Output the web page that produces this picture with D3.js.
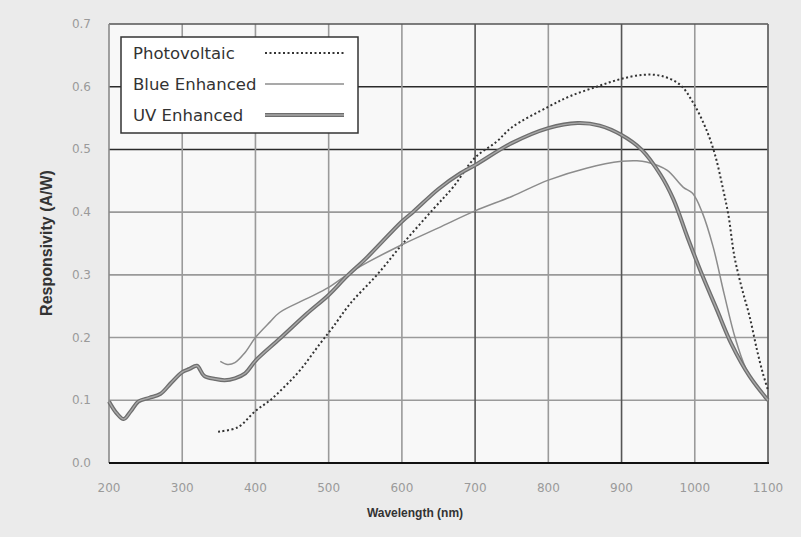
<!DOCTYPE html>
<html>
<head>
<meta charset="utf-8">
<script src="https://cdn.jsdelivr.net/npm/d3@7"></script>
<style>
  html, body { margin: 0; padding: 0; background: #ebebeb; }
  svg { display: block; }
</style>
</head>
<body>
<div id="chart"></div>
<script>
//////////////////////////////////////////////////////////////////////////////
// Data

var xTicks = [200, 300, 400, 500, 600, 700, 800, 900, 1000, 1100];
var yTicks = [0.0, 0.1, 0.2, 0.3, 0.4, 0.5, 0.6, 0.7];

var pvWl   = [349, 376, 400, 420, 440, 461, 488, 506, 530, 566, 600, 643, 670, 700, 729, 750, 800, 830, 866, 898, 930, 955, 980, 998, 1016, 1028, 1038, 1046, 1054, 1064, 1075, 1085, 1093, 1100];
var pvResp = [0.050, 0.057, 0.083, 0.100, 0.122, 0.148, 0.190, 0.217, 0.255, 0.300, 0.348, 0.405, 0.440, 0.487, 0.512, 0.535, 0.568, 0.585, 0.600, 0.612, 0.619, 0.617, 0.603, 0.574, 0.531, 0.490, 0.440, 0.395, 0.330, 0.280, 0.233, 0.180, 0.143, 0.116];

var blueWl   = [352, 362, 372, 385, 400, 420, 433, 470, 500, 538, 600, 650, 700, 750, 800, 852, 900, 921, 934, 962, 984, 997, 1010, 1025, 1040, 1055, 1070, 1085, 1100];
var blueResp = [0.162, 0.157, 0.160, 0.175, 0.200, 0.225, 0.240, 0.262, 0.280, 0.310, 0.348, 0.375, 0.402, 0.425, 0.451, 0.470, 0.481, 0.482, 0.480, 0.467, 0.440, 0.430, 0.400, 0.345, 0.270, 0.200, 0.150, 0.122, 0.100];

var uvWl   = [200, 210, 220, 230, 240, 255, 270, 285, 300, 310, 320, 330, 345, 358, 372, 386, 400, 433, 470, 500, 525, 550, 600, 615, 650, 680, 700, 750, 800, 840, 870, 900, 927, 953, 971, 990, 1010, 1030, 1050, 1075, 1100];
var uvResp = [0.098, 0.080, 0.070, 0.083, 0.098, 0.104, 0.110, 0.128, 0.145, 0.150, 0.155, 0.139, 0.134, 0.132, 0.135, 0.143, 0.163, 0.198, 0.238, 0.268, 0.298, 0.325, 0.385, 0.400, 0.437, 0.462, 0.475, 0.510, 0.534, 0.542, 0.538, 0.523, 0.500, 0.460, 0.420, 0.360, 0.300, 0.245, 0.190, 0.138, 0.100];

var seriesNames = ["Photovoltaic", "Blue Enhanced", "UV Enhanced"];

//////////////////////////////////////////////////////////////////////////////
// Setup

var svgW = 801, svgH = 537;
var plotL = 109, plotR = 768, plotT = 24, plotB = 463;

var xScale = d3.scaleLinear().domain([200, 1100]).range([plotL, plotR]);
var yScale = d3.scaleLinear().domain([0, 0.7]).range([plotB, plotT]);

function zip(wl, resp) {
    return wl.map(function(w, i) { return {wl: w, r: resp[i]}; });
}

var svg = d3.select("#chart").append("svg")
    .attr("width", svgW)
    .attr("height", svgH);

svg.append("rect")
    .attr("width", svgW).attr("height", svgH)
    .attr("fill", "#ebebeb");

svg.append("rect")
    .attr("x", plotL).attr("y", plotT)
    .attr("width", plotR - plotL).attr("height", plotB - plotT)
    .attr("fill", "#f8f8f8");

// grid
svg.append("g").selectAll("line")
    .data(yTicks.filter(function(d) { return d > 0 && d < 0.7; }))
    .enter().append("line")
    .attr("x1", plotL).attr("x2", plotR)
    .attr("y1", function(d) { return yScale(d); })
    .attr("y2", function(d) { return yScale(d); })
    .attr("stroke", function(d) { return (d === 0.5 || d === 0.6) ? "#2a2a2a" : "#9a9a9a"; })
    .attr("stroke-width", 1.6);

svg.append("g").selectAll("line")
    .data(xTicks.filter(function(d) { return d > 200 && d < 1100; }))
    .enter().append("line")
    .attr("y1", plotT).attr("y2", plotB)
    .attr("x1", function(d) { return xScale(d); })
    .attr("x2", function(d) { return xScale(d); })
    .attr("stroke", function(d) { return (d === 700 || d === 900) ? "#555" : "#9a9a9a"; })
    .attr("stroke-width", 1.6);

// frame
svg.append("line").attr("x1", plotL).attr("x2", plotR).attr("y1", plotT).attr("y2", plotT)
    .attr("stroke", "#555").attr("stroke-width", 1.6);
svg.append("line").attr("x1", plotL).attr("x2", plotL).attr("y1", plotT).attr("y2", plotB)
    .attr("stroke", "#8a8a8a").attr("stroke-width", 1.6);
svg.append("line").attr("x1", plotR).attr("x2", plotR).attr("y1", plotT).attr("y2", plotB)
    .attr("stroke", "#666").attr("stroke-width", 1.8);
svg.append("line").attr("x1", plotL).attr("x2", plotR + 1).attr("y1", plotB).attr("y2", plotB)
    .attr("stroke", "#111").attr("stroke-width", 2.2);

// tick labels
svg.append("g").selectAll("text")
    .data(xTicks).enter().append("text")
    .attr("x", function(d) { return xScale(d); })
    .attr("y", 492)
    .attr("text-anchor", "middle")
    .attr("font-family", "DejaVu Sans, sans-serif")
    .attr("font-size", 12)
    .attr("fill", "#9a9a9a")
    .text(function(d) { return d; });

svg.append("g").selectAll("text")
    .data(yTicks).enter().append("text")
    .attr("x", 91)
    .attr("y", function(d) { return yScale(d) + 4; })
    .attr("text-anchor", "end")
    .attr("font-family", "DejaVu Sans, sans-serif")
    .attr("font-size", 12)
    .attr("fill", "#9a9a9a")
    .text(function(d) { return d.toFixed(1); });

// axis titles
svg.append("text")
    .attr("x", 415).attr("y", 517)
    .attr("text-anchor", "middle")
    .attr("font-family", "Liberation Sans, Arial, sans-serif")
    .attr("font-weight", "bold")
    .attr("font-size", 12)
    .attr("fill", "#333")
    .text("Wavelength (nm)");

svg.append("text")
    .attr("transform", "translate(52," + 243 + ") rotate(-90)")
    .attr("text-anchor", "middle")
    .attr("font-family", "Liberation Sans, Arial, sans-serif")
    .attr("font-weight", "bold")
    .attr("font-size", 16)
    .attr("fill", "#333")
    .text("Responsivity (A/W)");

//////////////////////////////////////////////////////////////////////////////
// Lines

var line = d3.line()
    .x(function(d) { return xScale(d.wl); })
    .y(function(d) { return yScale(d.r); })
    .curve(d3.curveCatmullRom.alpha(0.5));

var styles = [
    {stroke: "#333", width: 2, dash: "2,2.5"},
    {stroke: "#8c8c8c", width: 1.5, dash: null},
    {stroke: "#6e6e6e", width: 4, dash: null}
];

var series = [zip(pvWl, pvResp), zip(blueWl, blueResp), zip(uvWl, uvResp)];

svg.append("g").selectAll("path")
    .data(series).enter().append("path")
    .attr("d", line)
    .attr("fill", "none")
    .attr("stroke", function(d, i) { return styles[i].stroke; })
    .attr("stroke-width", function(d, i) { return styles[i].width; })
    .attr("stroke-dasharray", function(d, i) { return styles[i].dash; });

// inner highlight of the thick UV line
svg.append("path")
    .attr("d", line(series[2]))
    .attr("fill", "none")
    .attr("stroke", "#a8a8a8")
    .attr("stroke-width", 1.4);

//////////////////////////////////////////////////////////////////////////////
// Legend

var legend = svg.append("g");
legend.append("rect")
    .attr("x", 121).attr("y", 37)
    .attr("width", 237).attr("height", 96)
    .attr("fill", "#fff")
    .attr("stroke", "#333")
    .attr("stroke-width", 1.5);

var legendY = [53, 84, 115];

var items = legend.selectAll("g.item")
    .data(seriesNames).enter().append("g")
    .attr("transform", function(d, i) { return "translate(0," + legendY[i] + ")"; });

items.append("text")
    .attr("x", 133).attr("y", 6)
    .attr("font-family", "DejaVu Sans, sans-serif")
    .attr("font-size", 16.5)
    .attr("fill", "#333")
    .text(function(d) { return d; });

items.append("line")
    .attr("x1", 265).attr("x2", 344).attr("y1", 0).attr("y2", 0)
    .attr("stroke", function(d, i) { return styles[i].stroke; })
    .attr("stroke-width", function(d, i) { return styles[i].width; })
    .attr("stroke-dasharray", function(d, i) { return styles[i].dash; });

legend.append("line")
    .attr("x1", 265).attr("x2", 344).attr("y1", legendY[2]).attr("y2", legendY[2])
    .attr("stroke", "#a8a8a8").attr("stroke-width", 1.4);
</script>
</body>
</html>
